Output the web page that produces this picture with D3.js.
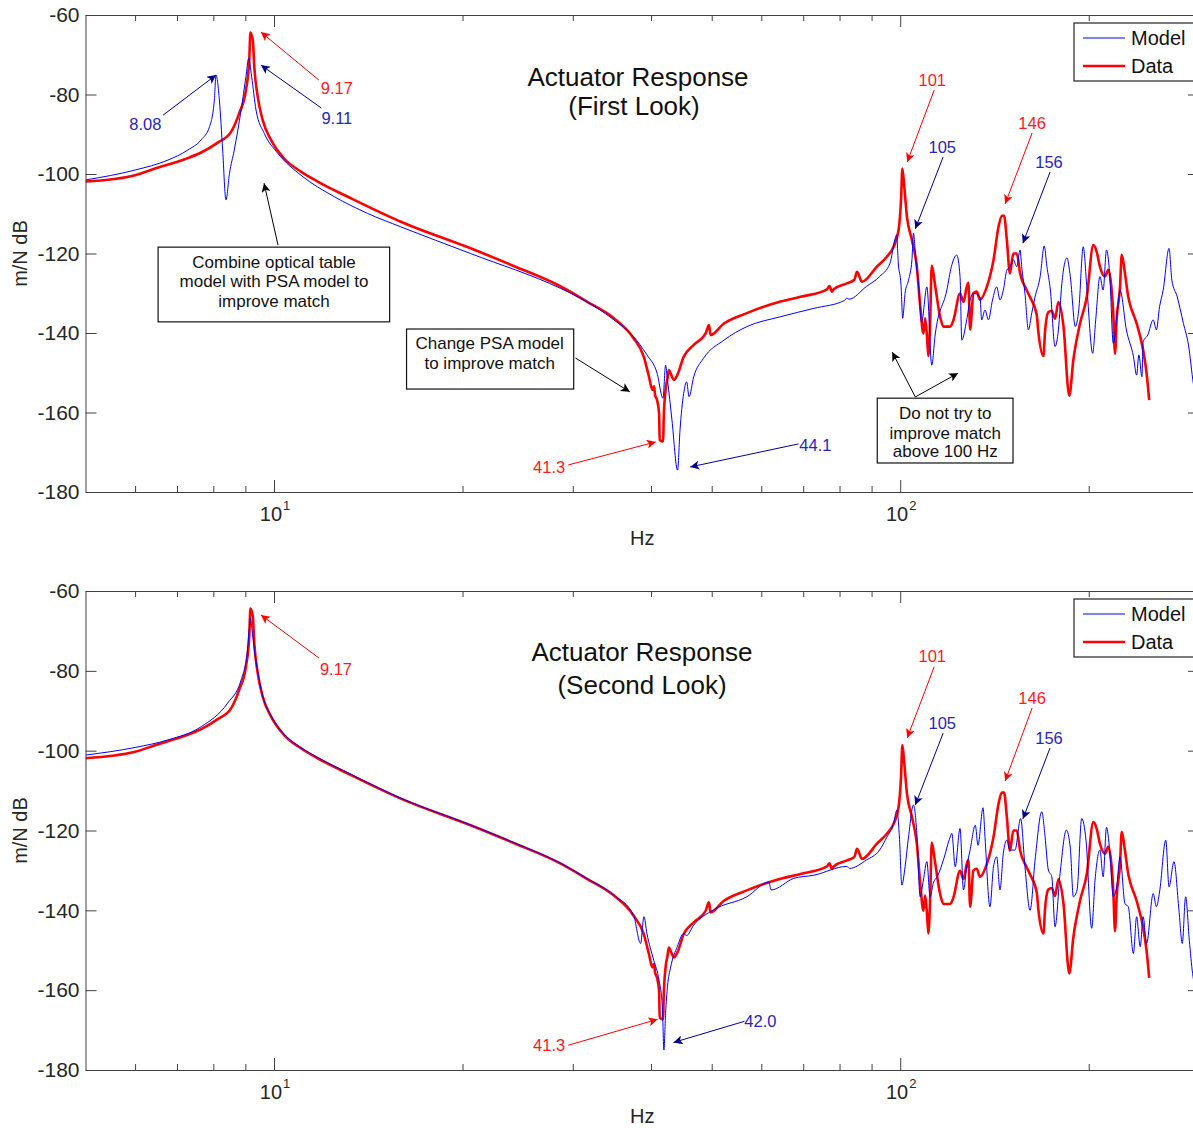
<!DOCTYPE html>
<html>
<head>
<meta charset="utf-8">
<script src="https://cdn.jsdelivr.net/npm/d3@7"></script>
<style>
body { margin: 0; background: #fff; }
text { font-family: "Liberation Sans", Arial, sans-serif; }
</style>
</head>
<body>
<script>
// measured response (Hz, dB) - same data in both panels
var dataPts = [[5.0,-101.9],[6.0,-100.3],[6.44,-98.7],[7.2,-96.3],[7.65,-94.6],[8.13,-92.1],[8.54,-89.4],[8.80,-84.7],[9.02,-78.9],[9.13,-71.3],[9.17,-64.4],[9.25,-66.3],[9.30,-73.0],[9.42,-80.6],[9.59,-86.4],[9.89,-91.4],[10.38,-96.1],[11.04,-99.4],[11.74,-101.9],[13.27,-106.1],[15.94,-112.0],[20.6,-118.7],[24.2,-123.2],[28.7,-128.3],[31.6,-132.1],[34.9,-136.3],[37.5,-141.3],[38.96,-146.0],[39.7,-151.0],[40.2,-154.3],[40.45,-153.4],[40.6,-155.6],[40.9,-156.9],[41.2,-160.2],[41.3,-166.9],[41.83,-167.3],[41.9,-161.9],[42.2,-154.3],[42.5,-151.4],[42.7,-149.3],[43.1,-150.6],[43.5,-151.8],[44.05,-150.6],[45.1,-146.0],[46.8,-143.0],[48.9,-140.1],[49.5,-138.0],[49.8,-140.5],[52.3,-137.6],[56.9,-135.0],[64.4,-132.1],[69.3,-130.9],[76.4,-129.0],[77.1,-128.2],[77.8,-129.6],[78.3,-129.0],[82.2,-127.5],[84.5,-126.6],[85.3,-124.6],[86.9,-127.1],[91.8,-123.3],[95.2,-120.8],[97.6,-118.3],[99.4,-114.1],[100.3,-106.5],[100.8,-98.6],[101.5,-103.2],[102.5,-110.7],[104.4,-116.6],[106.3,-123.3],[107.6,-133.0],[108.9,-140.1],[109.6,-136.3],[110.3,-140.5],[110.9,-145.8],[111.6,-137.8],[112.3,-123.0],[113.7,-128.1],[115.8,-135.9],[117.2,-138.4],[120.2,-138.4],[121.6,-136.8],[124.6,-130.1],[126.2,-132.2],[127.7,-128.4],[128.5,-127.4],[129.3,-139.1],[130.9,-130.0],[132.5,-129.6],[134.1,-131.6],[137.5,-128.4],[140.9,-121.7],[143.5,-113.4],[145.3,-110.5],[146.5,-110.5],[148.0,-116.6],[149.7,-125.0],[151.6,-120.0],[153.5,-120.0],[155.4,-125.0],[159.2,-129.2],[161.2,-131.0],[165.2,-135.5],[166.2,-139.8],[169.3,-145.8],[170.3,-139.8],[172.4,-134.8],[174.6,-134.4],[176.7,-136.4],[178.9,-132.2],[182.2,-138.1],[186.2,-155.8],[189.0,-146.8],[193.7,-137.6],[198.6,-130.9],[203.4,-117.9],[205.9,-119.5],[208.4,-123.3],[212.3,-125.8],[214.9,-124.1],[217.6,-129.2],[218.9,-135.1],[220.3,-145.2],[221.6,-136.8],[224.4,-128.4],[225.8,-120.3],[228.5,-125.0],[231.3,-130.9],[232.7,-132.7],[238.5,-137.6],[244.3,-144.3],[247.4,-150.1],[249.8,-156.9]];

// model, first look
var model1Pts = [[5.0,-101.5],[6.0,-99.0],[6.77,-96.5],[7.28,-94.0],[7.65,-91.4],[7.89,-88.1],[8.03,-81.4],[8.08,-75.1],[8.18,-81.4],[8.28,-94.0],[8.38,-106.5],[8.49,-99.8],[8.64,-94.0],[8.86,-83.9],[9.02,-75.5],[9.11,-70.9],[9.21,-75.5],[9.36,-83.9],[9.65,-89.8],[10.14,-94.8],[11.04,-100.3],[12.48,-105.7],[14.1,-109.9],[15.94,-113.3],[20.6,-120.0],[28.7,-128.8],[30.9,-131.3],[34.9,-136.7],[37.5,-140.9],[39.4,-145.5],[40.9,-150.1],[41.8,-156.4],[42.2,-148.1],[42.5,-151.8],[43.2,-161.9],[44.1,-174.5],[44.5,-164.4],[45.1,-155.2],[45.6,-152.3],[46.0,-156.0],[46.8,-151.0],[48.5,-146.4],[52.3,-141.8],[56.9,-138.4],[64.4,-135.9],[72.8,-133.8],[81.5,-131.8],[82.2,-131.2],[82.8,-131.5],[88.3,-128.3],[92.7,-125.8],[96.3,-122.5],[98.0,-116.6],[98.7,-115.3],[99.3,-122.4],[100.3,-128.0],[100.9,-136.3],[101.8,-130.0],[103.1,-126.7],[104.4,-121.6],[105.0,-114.9],[105.9,-121.6],[106.9,-127.5],[108.2,-137.2],[110.3,-128.4],[112.3,-148.1],[113.7,-140.5],[118.7,-129.2],[120.7,-123.3],[123.1,-120.4],[124.6,-125.8],[125.4,-141.8],[127.7,-136.7],[129.3,-131.7],[130.9,-130.0],[134.1,-130.9],[134.9,-136.7],[136.6,-134.2],[138.3,-136.7],[140.4,-131.7],[142.6,-128.4],[144.3,-131.7],[146.1,-129.2],[148.0,-124.2],[149.7,-123.3],[151.6,-121.6],[153.5,-123.3],[155.4,-119.1],[156.3,-123.3],[158.2,-130.0],[160.2,-139.2],[162.2,-135.0],[164.2,-130.9],[167.3,-125.8],[169.8,-118.1],[171.5,-123.3],[173.7,-129.2],[176.7,-143.4],[178.9,-139.2],[181.2,-127.5],[184.6,-121.1],[186.9,-125.8],[190.4,-138.4],[192.8,-134.2],[196.0,-118.3],[198.6,-128.4],[202.9,-145.1],[205.2,-136.7],[208.4,-125.8],[210.9,-129.2],[213.5,-119.1],[216.0,-125.0],[218.9,-142.6],[222.6,-133.4],[224.4,-129.2],[229.7,-139.2],[235.8,-146.0],[238.5,-150.6],[240.5,-145.5],[243.2,-151.0],[244.3,-142.2],[248.5,-140.5],[253.5,-136.7],[256.5,-139.2],[259.5,-133.4],[263.0,-129.2],[268.7,-118.7],[271.5,-126.7],[276.9,-130.9],[283.3,-137.6],[288.6,-143.0],[293.8,-152.7],[300,-160.0]];

// model, second look
var model2Pts = [[5.0,-101.1],[6.0,-99.2],[6.77,-97.3],[7.65,-94.0],[8.43,-88.1],[8.86,-82.3],[9.07,-74.8],[9.13,-69.5],[9.17,-66.8],[9.22,-69.5],[9.30,-74.5],[9.42,-80.3],[9.59,-86.2],[9.89,-91.2],[10.38,-95.9],[11.04,-99.2],[11.74,-101.7],[13.27,-105.9],[15.94,-111.9],[20.6,-118.6],[24.2,-123.1],[28.7,-128.2],[31.6,-132.0],[34.9,-136.2],[37.5,-141.2],[38.5,-148.3],[38.97,-141.6],[39.4,-145.8],[40.4,-152.5],[41.2,-157.5],[41.7,-164.0],[41.94,-175.0],[42.2,-165.8],[42.5,-159.0],[43.0,-154.2],[44.05,-149.1],[45.1,-145.8],[45.6,-146.3],[46.8,-143.7],[50.3,-139.9],[56.9,-136.6],[61.7,-132.9],[62.2,-134.9],[67.6,-132.0],[72.8,-131.2],[82.2,-129.0],[83.0,-129.5],[88.3,-127.4],[92.7,-124.9],[95.2,-121.7],[97.6,-118.2],[98.8,-114.9],[99.7,-121.6],[100.6,-133.7],[101.8,-129.1],[103.1,-121.6],[105.0,-113.6],[106.3,-120.7],[107.6,-136.6],[108.9,-132.4],[110.3,-127.8],[111.6,-136.6],[112.9,-133.3],[114.9,-131.2],[117.2,-127.4],[120.2,-121.6],[120.9,-120.7],[122.4,-129.1],[124.6,-119.5],[126.2,-134.9],[127.7,-129.1],[129.3,-124.9],[131.8,-118.7],[133.1,-123.7],[135.6,-114.3],[136.6,-121.9],[139.1,-139.1],[140.9,-129.1],[142.6,-126.6],[144.3,-134.9],[146.1,-125.7],[148.0,-122.4],[149.7,-124.9],[152.5,-124.9],[155.7,-117.0],[158.2,-129.1],[161.2,-140.0],[164.2,-127.4],[168.3,-115.3],[170.3,-121.4],[172.4,-129.9],[174.6,-131.6],[176.7,-144.1],[180.0,-130.8],[184.2,-119.9],[186.9,-124.4],[189.0,-136.6],[191.6,-134.9],[194.9,-117.0],[198.0,-122.4],[202.2,-144.5],[204.7,-132.4],[208.4,-124.9],[210.9,-131.6],[213.5,-119.2],[216.0,-124.9],[218.9,-136.6],[221.6,-134.1],[224.4,-126.6],[228.5,-138.3],[231.3,-139.1],[235.7,-150.8],[238.5,-141.6],[241.7,-149.1],[244.3,-141.6],[247.4,-148.3],[253.5,-135.8],[256.5,-139.1],[259.5,-135.4],[265.5,-122.4],[268.7,-134.1],[273.6,-127.8],[278.7,-140.0],[282.1,-148.3],[285.6,-136.6],[289.5,-147.5],[293.0,-155.8],[300,-162.0]];

var yTicks = [-180, -160, -140, -120, -100, -80, -60];
var xMajor = [10, 100];
var xMinor = [6, 7, 8, 9, 20, 30, 40, 50, 60, 70, 80, 90, 200];
var legendNames = ["Model", "Data"];

// peak / notch callouts, positions in (Hz, dB)
var topNotes = [
  {label: "8.08", c: "b", at: [6.23, -87.4], tail: [6.65, -85.2], head: [8.08, -75.1]},
  {label: "9.11", c: "b", at: [12.6, -85.9], tail: [11.9, -83.4], head: [9.53, -72.6]},
  {label: "9.17", c: "r", at: [12.6, -78.4], tail: [11.8, -76.4], head: [9.53, -64.3]},
  {label: "41.3", c: "r", at: [27.5, -173.7], tail: [29.5, -173.2], head: [40.7, -167.4]},
  {label: "44.1", c: "b", at: [73.2, -168.2], tail: [68.8, -167.9], head: [46.2, -173.7]},
  {label: "101", c: "r", at: [112.5, -76.4], tail: [113.3, -78.9], head: [102.6, -97.0]},
  {label: "105", c: "b", at: [116.7, -93.2], tail: [117.1, -95.7], head: [105.7, -113.8]},
  {label: "146", c: "r", at: [162.4, -87.2], tail: [162.4, -89.7], head: [147.1, -107.5]},
  {label: "156", c: "b", at: [172.8, -97.0], tail: [173.5, -99.5], head: [157.0, -117.4]}
];
var bottomNotes = [
  {label: "9.17", c: "r", at: [12.56, -79.5], tail: [11.8, -76.8], head: [9.53, -66.0]},
  {label: "101", c: "r", at: [112.5, -76.3], tail: [113.3, -79.0], head: [102.6, -96.8]},
  {label: "105", c: "b", at: [116.7, -93.1], tail: [117.1, -95.6], head: [105.7, -113.6]},
  {label: "146", c: "r", at: [162.4, -86.8], tail: [162.4, -89.3], head: [147.1, -107.6]},
  {label: "156", c: "b", at: [172.8, -96.8], tail: [173.5, -99.3], head: [157.0, -117.1]},
  {label: "41.3", c: "r", at: [27.5, -173.8], tail: [29.5, -173.8], head: [40.97, -167.3]},
  {label: "42.0", c: "b", at: [59.8, -167.8], tail: [56.4, -167.8], head: [43.45, -173.1]}
];

// text boxes with black arrows (top panel only)
var topBoxes = [
  {lines: ["Combine optical table", "model with PSA model to", "improve match"],
   f: [6.53, 15.3], db: [-118.4, -137.2], cf: 10, ldb: [-122.1, -126.9, -132.0]},
  {lines: ["Change PSA model", "to improve match"],
   f: [16.28, 30.1], db: [-139.0, -154.1], cf: 22.1, ldb: [-142.5, -147.5]},
  {lines: ["Do not try to", "improve match", "above 100 Hz"],
   f: [91.9, 151.4], db: [-156.4, -172.7], cf: 118, ldb: [-160.1, -165.2, -169.7]}
];
var topArrows = [
  {tail: [10.15, -117.9], head: [9.64, -102.3]},
  {tail: [30.3, -146.3], head: [37.0, -154.8]},
  {tail: [105.7, -156.1], head: [97.1, -144.8]},
  {tail: [105.7, -156.1], head: [123.7, -150.1]}
];

var textCol = {r: "#ff1a1a", b: "#2626b3"};
var arrowCol = {r: "#ff0000", b: "#00008b", k: "#000000"};

var W = 1193, H = 1128;
var x0 = 85.5, x1 = 1199;

var svg = d3.select("body")
    .append("svg")
    .attr("width", W)
    .attr("height", H)
    .style("display", "block");

svg.append("rect").attr("width", W).attr("height", H).attr("fill", "#fff");

var defs = svg.append("defs");
Object.keys(arrowCol).forEach(function(k) {
  defs.append("marker")
      .attr("id", "ah-" + k)
      .attr("viewBox", "0 0 10 10")
      .attr("refX", 10)
      .attr("refY", 5)
      .attr("markerWidth", 13)
      .attr("markerHeight", 9)
      .attr("markerUnits", "userSpaceOnUse")
      .attr("orient", "auto")
    .append("path")
      .attr("d", "M0,0 L10,5 L0,10 L2.5,5 z")
      .attr("fill", arrowCol[k]);
});

var x = d3.scaleLog().domain([5, 300]).range([x0, x1]);

var panels = [
  {top: 15, bottom: 492, title: ["Actuator Response", "(First Look)"], tdy: [71, 100], tx: [638, 634],
   model: model1Pts, notes: topNotes, boxes: topBoxes, arrows: topArrows},
  {top: 591, bottom: 1070, title: ["Actuator Response", "(Second Look)"], tdy: [70, 103], tx: [642, 642],
   model: model2Pts, notes: bottomNotes, boxes: [], arrows: []}
];

panels.forEach(function(p, i) {
  var y = d3.scaleLinear().domain([-180, -60]).range([p.bottom, p.top]);
  var g = svg.append("g");

  defs.append("clipPath").attr("id", "clip" + i)
    .append("rect")
      .attr("x", x0).attr("y", p.top)
      .attr("width", x1 - x0).attr("height", p.bottom - p.top);

  var line = d3.line()
      .curve(d3.curveMonotoneX)
      .x(function(d) { return x(d[0]); })
      .y(function(d) { return y(d[1]); });

  var plot = g.append("g").attr("clip-path", "url(#clip" + i + ")");

  plot.append("path")
      .datum(dataPts)
      .attr("d", line)
      .attr("fill", "none")
      .attr("stroke", "#ff0000")
      .attr("stroke-width", 2.6)
      .attr("stroke-linejoin", "round");

  plot.append("path")
      .datum(p.model)
      .attr("d", line)
      .attr("fill", "none")
      .attr("stroke", "#0000ff")
      .attr("stroke-width", 1);

  // axes (box, ticks pointing inward)
  var axes = [
    g.append("g").attr("transform", "translate(" + x0 + ",0)")
      .call(d3.axisLeft(y).tickValues(yTicks).tickSize(-11).tickSizeOuter(0).tickPadding(6)
        .tickFormat(function(d) { return String(d); })),
    g.append("g").attr("transform", "translate(" + x1 + ",0)")
      .call(d3.axisRight(y).tickValues(yTicks).tickSize(-11).tickSizeOuter(0).tickFormat("")),
    g.append("g").attr("transform", "translate(0," + p.bottom + ")")
      .call(d3.axisBottom(x).tickValues(xMinor).tickSize(-6).tickSizeOuter(0).tickFormat("")),
    g.append("g").attr("transform", "translate(0," + p.bottom + ")")
      .call(d3.axisBottom(x).tickValues(xMajor).tickSize(-12).tickSizeOuter(0).tickFormat("")),
    g.append("g").attr("transform", "translate(0," + p.top + ")")
      .call(d3.axisTop(x).tickValues(xMinor).tickSize(-6).tickSizeOuter(0).tickFormat("")),
    g.append("g").attr("transform", "translate(0," + p.top + ")")
      .call(d3.axisTop(x).tickValues(xMajor).tickSize(-12).tickSizeOuter(0).tickFormat(""))
  ];
  axes.forEach(function(a) {
    a.selectAll("path, line").attr("stroke", "#404040").attr("stroke-width", 1);
    a.selectAll("text").attr("font-size", "21px").attr("fill", "#262626")
      .attr("font-family", "Liberation Sans, Arial, sans-serif");
  });

  // 10^n labels
  xMajor.forEach(function(v) {
    var t = g.append("text")
        .attr("x", x(v) + 1)
        .attr("y", p.bottom + 29)
        .attr("text-anchor", "middle")
        .attr("font-size", "20px")
        .attr("fill", "#262626")
        .text("10");
    t.append("tspan")
        .attr("dy", -11)
        .attr("dx", 1)
        .attr("font-size", "13px")
        .text(Math.round(Math.log10(v)));
  });

  g.append("text")
      .attr("x", (x(5) + x(300)) / 2)
      .attr("y", p.bottom + 53)
      .attr("text-anchor", "middle")
      .attr("font-size", "20px")
      .attr("fill", "#262626")
      .text("Hz");

  g.append("text")
      .attr("transform", "translate(27," + (p.top + p.bottom) / 2 + ") rotate(-90)")
      .attr("text-anchor", "middle")
      .attr("font-size", "20px")
      .attr("fill", "#262626")
      .text("m/N dB");

  // title
  p.title.forEach(function(s, k) {
    g.append("text")
        .attr("x", p.tx[k])
        .attr("y", p.top + p.tdy[k])
        .attr("text-anchor", "middle")
        .attr("font-size", "26px")
        .attr("fill", "#111")
        .text(s);
  });

  // legend
  var lg = g.append("g");
  lg.append("rect")
      .attr("x", 1074).attr("y", p.top + 8)
      .attr("width", 140).attr("height", 58)
      .attr("fill", "#fff").attr("stroke", "#333").attr("stroke-width", 1.3);
  legendNames.forEach(function(n, k) {
    var ly = p.top + 23 + k * 28;
    lg.append("line")
        .attr("x1", 1083).attr("x2", 1125)
        .attr("y1", ly).attr("y2", ly)
        .attr("stroke", k == 0 ? "#0000ff" : "#ff0000")
        .attr("stroke-width", k == 0 ? 1 : 2.6);
    lg.append("text")
        .attr("x", 1131).attr("y", ly)
        .attr("dy", "0.36em")
        .attr("font-size", "20px")
        .attr("fill", "#111")
        .text(n);
  });

  // callouts
  p.notes.forEach(function(n) {
    g.append("line")
        .attr("x1", x(n.tail[0])).attr("y1", y(n.tail[1]))
        .attr("x2", x(n.head[0])).attr("y2", y(n.head[1]))
        .attr("stroke", arrowCol[n.c])
        .attr("stroke-width", 1)
        .attr("marker-end", "url(#ah-" + n.c + ")");
    g.append("text")
        .attr("x", x(n.at[0])).attr("y", y(n.at[1]))
        .attr("dy", "0.36em")
        .attr("text-anchor", "middle")
        .attr("font-size", "16.5px")
        .attr("fill", textCol[n.c])
        .text(n.label);
  });

  p.arrows.forEach(function(a) {
    g.append("line")
        .attr("x1", x(a.tail[0])).attr("y1", y(a.tail[1]))
        .attr("x2", x(a.head[0])).attr("y2", y(a.head[1]))
        .attr("stroke", "#000")
        .attr("stroke-width", 1)
        .attr("marker-end", "url(#ah-k)");
  });

  p.boxes.forEach(function(b) {
    g.append("rect")
        .attr("x", x(b.f[0])).attr("y", y(b.db[0]))
        .attr("width", x(b.f[1]) - x(b.f[0]))
        .attr("height", y(b.db[1]) - y(b.db[0]))
        .attr("fill", "#fff")
        .attr("stroke", "#111")
        .attr("stroke-width", 1.2);
    b.lines.forEach(function(s, k) {
      g.append("text")
          .attr("x", x(b.cf)).attr("y", y(b.ldb[k]))
          .attr("dy", "0.36em")
          .attr("text-anchor", "middle")
          .attr("font-size", "17px")
          .attr("fill", "#111")
          .text(s);
    });
  });
});
</script>
</body>
</html>
